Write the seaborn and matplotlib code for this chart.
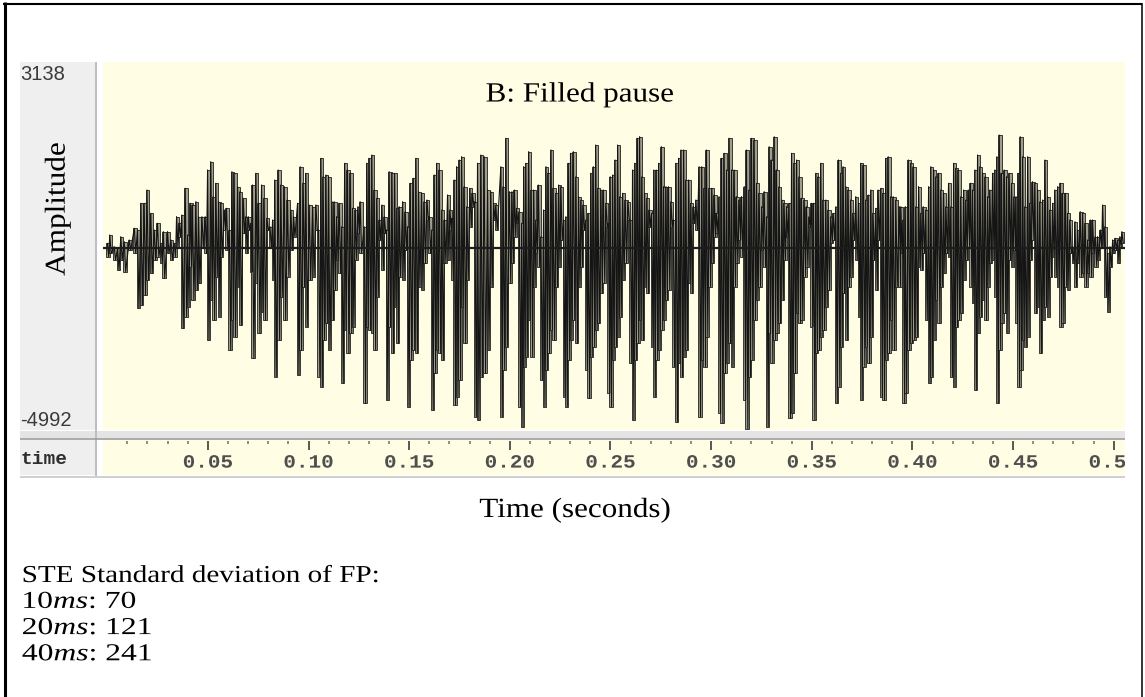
import numpy as np
import pandas as pd
import seaborn as sns
import matplotlib
matplotlib.use("Agg")
import matplotlib.pyplot as plt
from matplotlib.lines import Line2D
from matplotlib.patheffects import AbstractPathEffect
from matplotlib.transforms import Affine2D, blended_transform_factory

# ---------------------------------------------------------------------------
# Waveform of the filled pause: one vertical stroke per drawn sample pair,
# given by its time (ms) and its upper / lower amplitude (sample units).
# ---------------------------------------------------------------------------
time_ms = [
    # 0.00 - 0.10 s
    0.4, 1.6, 3.8, 5.5, 7.1, 8.8, 11.3, 13.8, 15.4, 17.1, 18.7, 20.1, 22.0, 23.7,
    25.3, 27.0, 28.2, 30.3, 32.0, 33.6, 34.8, 36.1, 37.4, 39.1, 40.3, 41.6, 42.7,
    44.4, 45.7, 47.4, 49.0, 50.2, 51.8, 53.0, 54.3, 55.7, 56.8, 58.5, 59.6, 61.0,
    62.3, 63.4, 65.1, 66.3, 67.9, 69.2, 70.4, 71.7, 72.5, 74.2, 75.5, 77.0, 78.3,
    79.7, 81.2, 82.5, 83.6, 85.3, 86.6, 88.3, 89.9, 91.6, 92.9, 94.9, 96.2, 97.7,
    99.0,
    # 0.10 - 0.195 s
    100.7, 102.4, 104.0, 105.3, 106.5, 107.6, 109.0, 110.3, 112.0, 113.1, 114.3,
    115.6, 116.9, 118.3, 119.7, 121.1, 122.2, 123.6, 124.9, 126.0, 128.0, 129.3,
    130.5, 131.8, 133.0, 134.3, 135.5, 136.8, 138.0, 139.1, 140.4, 141.8, 143.1,
    144.3, 145.4, 147.1, 148.4, 149.6, 150.9, 152.4, 153.7, 155.0, 156.5, 157.8,
    159.2, 160.3, 161.6, 162.8, 164.0, 165.3, 166.6, 167.9, 169.4, 170.6, 171.6,
    172.7, 173.9, 175.2, 176.4, 177.7, 179.0, 180.5, 181.8, 183.0, 184.3, 186.0,
    187.6, 189.3, 190.9, 192.3, 193.4,
    # 0.195 - 0.294 s
    195.9, 197.1, 198.4, 200.1, 201.4, 202.6, 203.7, 205.0, 206.2, 207.2, 208.3,
    209.7, 211.0, 212.2, 213.3, 214.5, 215.8, 217.1, 218.3, 219.4, 220.8, 221.9,
    223.3, 224.6, 225.7, 227.1, 228.2, 229.4, 230.5, 231.9, 233.2, 234.5, 235.7,
    236.8, 238.2, 239.3, 240.6, 241.8, 243.0, 244.1, 245.6, 246.8, 248.1, 249.3,
    250.2, 251.4, 252.6, 253.9, 255.0, 256.4, 257.7, 259.0, 260.2, 261.3, 262.5,
    263.7, 264.8, 266.0, 267.3, 268.5, 269.6, 270.8, 271.9, 273.1, 274.3, 275.6,
    276.7, 277.9, 279.1, 280.4, 281.5, 282.9, 284.2, 285.4, 286.7, 287.8, 289.2,
    290.3, 291.5, 292.8,
    # 0.294 - 0.393 s
    294.4, 295.7, 296.9, 298.0, 299.4, 300.7, 301.9, 303.0, 304.3, 305.5, 306.8,
    308.0, 309.3, 310.5, 311.8, 312.9, 314.3, 315.4, 316.8, 317.9, 319.2, 320.4,
    321.7, 322.9, 324.2, 325.5, 326.7, 328.0, 329.2, 330.3, 331.7, 332.8, 334.1,
    335.5, 336.6, 337.8, 339.1, 340.3, 341.6, 342.8, 344.1, 345.2, 346.6, 347.7,
    349.0, 350.2, 351.2, 352.4, 353.5, 354.8, 356.0, 357.3, 358.5, 359.8, 361.0,
    362.3, 363.6, 364.8, 365.9, 367.3, 368.4, 369.7, 370.9, 372.2, 373.6, 374.7,
    376.0, 377.2, 378.4, 379.7, 380.8, 382.2, 383.3, 384.7, 385.8, 387.1, 388.3,
    389.6, 390.8, 392.1,
    # 0.393 - 0.505 s
    393.8, 394.6, 395.8, 396.8, 398.3, 399.6, 400.8, 402.1, 403.4, 404.6, 405.7,
    407.0, 408.4, 409.5, 410.9, 412.0, 413.3, 414.5, 415.8, 417.0, 418.3, 419.5,
    420.8, 422.0, 423.1, 424.4, 425.8, 426.9, 428.1, 429.2, 430.2, 431.4, 432.7,
    433.9, 435.2, 436.5, 437.7, 438.8, 440.2, 441.3, 442.3, 443.5, 444.6, 446.0,
    447.1, 448.4, 449.6, 450.8, 451.8, 452.9, 453.9, 455.1, 456.2, 457.6, 458.7,
    460.0, 461.2, 462.5, 463.7, 465.0, 466.2, 467.5, 468.7, 470.0, 471.1, 472.5,
    473.8, 474.9, 476.3, 477.4, 478.6, 479.9, 481.1, 482.4, 483.7, 484.9, 486.2,
    487.4, 488.7, 489.8, 491.2, 492.3, 493.7, 494.8, 496.0, 497.3, 498.5, 499.8,
    501.1, 502.3, 503.4, 504.4,
]

amp_hi = [
    138, 369, 46, 0, 323, 185, 231, 554, 508, 1246, 1246, 1615, 969, 508,
    692, 138, 462, 462, 231, 138, 877, 692, 923, 1661, 369, 1246, 1200,
    1292, 877, 877, 877, 2169, 2400, 1431, 1800, 1292, 1246, 1061, 1108, 508,
    2123, 2077, 1708, 1569, 1385, 877, 877, 692, 1754, 2077, 1246, 1754, 1385,
    831, 600, 785, 1892, 2169, 1754, 1708, 1338, 1061, 877, 1246, 2261, 1800,
    2077,
    1200, 1154, 1200, 508, 2492, 1984, 2031, 1984, 1292, 1292, 877,
    1246, 600, 2354, 2169, 2077, 1108, 1061, 1154, 1292, 600, 2354,
    2492, 2584, 1615, 1385, 785, 1200, 877, 508, 2123, 2077, 2077,
    1108, 1154, 1292, 1015, 600, 1800, 1938, 2492, 1569, 1523, 1292,
    1338, 877, 508, 2031, 2354, 2169, 1061, 785, 1477, 1061, 831,
    1892, 2261, 2446, 2538, 1708, 1154, 1661, 1523, 1292, 2354, 2584,
    2538, 1615, 1569, 1246, 1200,
    2261, 1708, 3046, 1569, 1569, 1615, 1108, 1015, 692, 2261, 2354,
    2677, 1615, 1615, 785, 1754, 323, 1061, 2261, 2077, 2723, 1661,
    1523, 1754, 1708, 785, 877, 2354, 2631, 2677, 1984, 1431, 1338,
    1200, 785, 969, 2077, 2261, 2861, 1661, 1615, 1615, 1246, 692,
    1984, 2031, 2446, 2861, 1431, 1523, 1338, 1292, 785, 2169, 2354,
    3046, 3092, 1984, 1523, 1385, 1061, 969, 2169, 2169, 2354, 2815,
    1708, 1708, 1708, 1292, 785, 2354, 2492, 2723, 2723, 1892, 1892,
    1246, 1154, 1338,
    2261, 2261, 1661, 2723, 1661, 1661, 1477, 969, 1431, 2492, 2631,
    2169, 3046, 2169, 2169, 1431, 1338, 1431, 1708, 2723, 1615, 3046,
    3000, 1800, 1523, 1154, 1569, 877, 2815, 2446, 3090, 2169, 1708,
    1338, 1246, 1154, 1246, 2631, 2354, 2446, 1984, 1385, 1338, 1154,
    877, 1246, 1246, 2077, 1984, 2354, 1338, 1338, 1061, 877, 969,
    1154, 2446, 2077, 2261, 1708, 1615, 1338, 969, 1431, 1246, 2354,
    2308, 1338, 1477, 1615, 969, 1108, 1615, 1661, 1523, 2492, 2538,
    1431, 1431, 1338,
    1154, 1154, 785, 1154, 2446, 2354, 2261, 1154, 1708, 969, 1154,
    1061, 1708, 2261, 2169, 1984, 2077, 1615, 1523, 1154, 1800, 1154,
    2354, 2215, 2169, 1431, 1615, 1338, 1615, 1800, 1615, 2169, 2584,
    2261, 2077, 1984, 1431, 1615, 2077, 2169, 2538, 3138, 2077, 2169,
    1984, 2077, 1800, 1431, 1431, 2077, 3092, 2538, 1154, 2538, 1246,
    1846, 1800, 1615, 1292, 1338, 2446, 1431, 1061, 1246, 1615, 1708,
    1800, 1523, 1523, 969, 785, 46, 738, 508, 1015, 969, 692,
    231, 785, 785, 323, 323, 508, 1200, 600, -138, 46, 231,
    277, 231, 323, 462,
]

amp_lo = [
    -231, -138, -323, -600, -323, -646, -46, -138, -1661, -1569, -1292, -877,
    -692, -323, -231, -415, -831, -138, -323, -231, 46, 323, -2215, -1892,
    -1615, -508, -1431, -1154, -969, 46, -138, -2538, -1431, -1984, -785,
    -1892, -231, 508, -46, -2815, -1984, -2446, -1061, -2123, 415, -138, 508,
    -646, -3046, -969, -2354, -1754, -1984, 508, 0, -877, -3554, -2538, -1338,
    -1984, -785, -46, 323, -3507, -2815, -1061, -2169,
    -877, -785, 508, -3554, -3830, -2538, -2077, -2815, -1984, -1154, -323,
    -692, -3738, -2261, -2907, -2354, -2169, -323, 415, -138, -4292, -2169,
    -2261, -2354, -2815, -1338, 231, -600, 415, -4200, -2169, -2907, -1615,
    -2631, -785, -877, -46, -4384, -3092, -2815, -2907, -1061, -1154, -415,
    785, -138, -4477, -3461, -2815, -2907, -3092, -415, -323, 508, -877,
    -4338, -4107, -3646, -1615, -2631, -877, 600, 1154, -4661, -4753, -3554,
    -3461, -2815, -1061, 785, 508,
    -4661, -3369, -2723, -969, -415, 323, 692, -4384, -4950, -3277, -3000,
    -1984, -3000, -1061, -138, -508, -3646, -4384, -3369, -2907, -2261, -2538,
    -1061, -508, 231, -4107, -4384, -3092, -2538, -1984, -2631, -1061, -508,
    508, -3369, -4154, -3000, -2723, -2261, -2077, -1246, -969, 600, -4015,
    -4384, -3092, -2723, -2446, -1892, -877, -415, 785, -3184, -4753, -3092,
    -2631, -1984, -2538, -1061, -1246, 600, -2723, -4107, -3092, -2815, -2261,
    -1984, -1431, -1154, 600, -3277, -4800, -3184, -3554, -3000, -2815, -969,
    -1246, 692, 508,
    -4661, -3092, -3277, -2446, -1061, -415, 323, 415, -4569, -4846, -3461,
    -3184, -2631, -3277, -1061, -415, 231, -231, -4200, -4992, -3554, -3092,
    -1984, -1431, -1061, -46, -508, -4938, -2354, -3184, -2538, -2354, -2077,
    -1431, -323, 323, -4707, -4569, -3461, -1800, -2077, -1984, -785, -508,
    600, -2169, -4753, -2907, -2815, -2446, -2261, -1615, -1154, 138, 231,
    -4292, -3830, -2723, -1246, -2538, -1061, -785, 231, -323, -1892, -4200,
    -3277, -2723, -3184, -2446, -323, -1154, 231, -4107, -4200, -3092, -2907,
    -1984, -2815, -1061,
    -1061, -138, -4292, -4015, -2815, -2631, -2538, -2446, -508, -600, -138,
    -1984, -3738, -3554, -2538, -1431, -2077, -1061, -692, -138, -231, -3554,
    -3830, -2169, -1984, -1800, -877, -323, 46, -1061, -1523, -3923, -2354,
    -1892, -1431, -1984, -1061, -415, -323, -1338, -4292, -2815, -2077, -1800,
    -2354, -323, -508, -46, -2077, -3830, -3369, -2538, -2723, -2446, -323,
    231, -1800, -1615, -2907, -1984, -1615, -1892, -785, -231, -785, -1061,
    -2169, -2077, -1061, -1154, -138, -415, -1061, -415, -785, -692, -1061,
    -692, -785, -138, -508, -323, 46, 46, -1338, -1754, -508, -138,
    -46, -415, 46, 138,
]

# Amplitude range shown by the editor and the time ruler
amp_max_label = "3138"
amp_min_label = "-4992"
ruler_ticks = [0.05, 0.10, 0.15, 0.20, 0.25, 0.30, 0.35, 0.40, 0.45, 0.50]
ruler_labels = ["0.05", "0.10", "0.15", "0.20", "0.25", "0.30", "0.35",
                "0.40", "0.45", "0.50"]
ruler_minor = [round(0.01 * k, 2) for k in range(1, 51)]

panel_title = "B: Filled pause"
y_title = "Amplitude"
x_title = "Time (seconds)"
notes_head = "STE Standard deviation of FP:"
window_ms = ["10", "20", "40"]
ste_sd = [70, 121, 241]

if not (len(time_ms) == len(amp_hi) == len(amp_lo)):
    raise ValueError("stroke arrays differ in length")

wave = pd.DataFrame({"t": np.asarray(time_ms) / 1000.0,
                     "hi": amp_hi, "lo": amp_lo})

# the trace runs down each stroke and up again to the next one
half = 0.00035
trace = pd.DataFrame({
    "t": np.column_stack([wave["t"] - half, wave["t"] + half]).ravel(),
    "amp": np.column_stack([wave["hi"], wave["lo"]]).ravel(),
})

# ---------------------------------------------------------------------------
sns.set_theme(style="white")
plt.rcParams["font.family"] = ["Liberation Serif", "DejaVu Serif"]
plt.rcParams["mathtext.fontset"] = "custom"
plt.rcParams["mathtext.rm"] = "Liberation Serif"
plt.rcParams["mathtext.it"] = "Liberation Serif:italic"

W, H = 1145, 697
fig = plt.figure(figsize=(W / 100, H / 100), dpi=100)
fig.patch.set_facecolor("white")

YELLOW = "#fffde3"
PANEL = "#efefef"


class Widen(AbstractPathEffect):
    """Stretch glyph outlines horizontally about the text's left edge or centre."""

    def __init__(self, sx, anchor="center"):
        super().__init__()
        self.sx = sx
        self.anchor = anchor

    def draw_path(self, renderer, gc, tpath, affine, rgbFace=None):
        ext = affine.transform_path(tpath).get_extents()
        x0 = ext.x0 if self.anchor == "left" else 0.5 * (ext.x0 + ext.x1)
        aff = affine + Affine2D().translate(-x0, 0).scale(self.sx, 1.0).translate(x0, 0)
        renderer.draw_path(gc, tpath, aff, rgbFace)


def box(x0, y0, x1, y1):
    return [x0 / W, 1 - y1 / H, (x1 - x0) / W, (y1 - y0) / H]


def panel(x0, y0, x1, y1, color):
    a = fig.add_axes(box(x0, y0, x1, y1))
    a.set_facecolor(color)
    a.set_xticks([])
    a.set_yticks([])
    for s in a.spines.values():
        s.set_visible(False)
    return a


def fline(x0, y0, x1, y1, color, lw):
    fig.add_artist(Line2D([x0 / W, x1 / W], [1 - y0 / H, 1 - y1 / H],
                          transform=fig.transFigure, color=color, lw=lw,
                          solid_capstyle="butt"))


def ftext(x, y, s, **kw):
    return fig.text(x / W, 1 - y / H, s, **kw)


# side panels and separators
panel(20, 62, 95, 430, PANEL)
panel(20, 440, 95, 475, PANEL)
panel(20, 431, 1125, 438, "#e4e4e4")
fline(96, 62, 96, 476, "#bdbdbd", 1.4)
fline(20, 438.5, 1125, 438.5, "#9c9c9c", 1.2)
fline(20, 476.5, 1125, 476.5, "#cfcfcf", 1.4)

# waveform
XMIN, XMAX = -0.0021, 0.5056
ax = panel(103, 62, 1125, 430, YELLOW)
ax.bar(wave["t"], wave["hi"] - wave["lo"], bottom=wave["lo"], width=0.0017,
       color="#a09e8a", edgecolor="#202020", linewidth=0.6, zorder=2)
sns.lineplot(data=trace, x="t", y="amp", sort=False, estimator=None,
             color="#141414", lw=0.8, ax=ax, zorder=3)
ax.axhline(0, color="#1c1c1c", lw=1.6, zorder=4)
ax.set_xlim(XMIN, XMAX)
ax.set_ylim(-5033, 5160)
ax.set_xlabel("")
ax.set_ylabel("")
ax.set_xticks([])
ax.set_yticks([])
sns.despine(ax=ax, left=True, bottom=True)

# time ruler
rx = panel(103, 440, 1125, 475, YELLOW)
rx.set_xlim(XMIN, XMAX)
rx.set_ylim(0, 1)
rx.vlines(ruler_ticks, 0.72, 0.97, color="#4a4a4a", lw=1.3)
minor = [m for m in ruler_minor if all(abs(m - t) > 1e-6 for t in ruler_ticks)]
rx.vlines(minor, 0.88, 0.96, color="#6f6f6f", lw=1.1)
trans = blended_transform_factory(rx.transData, rx.transAxes)
for t, lab in zip(ruler_ticks, ruler_labels):
    rx.text(t, 0.34, lab, transform=trans, ha="center", va="center",
            family="Liberation Mono", weight="bold", fontsize=13.5,
            color="#4f4f4f", clip_on=True, path_effects=[Widen(1.12)])

ftext(20, 459, "time", ha="left", va="center", family="Liberation Mono",
      weight="bold", fontsize=14, color="#2e2e2e")
ftext(20, 75, amp_max_label, ha="left", va="center", family="Liberation Sans",
      fontsize=14.5, color="#3a3a3a")
ftext(20, 420, amp_min_label, ha="left", va="center", family="Liberation Sans",
      fontsize=14.5, color="#3a3a3a")

# titles
ftext(580, 101.5, panel_title, ha="center", va="baseline", fontsize=20,
      color="black", path_effects=[Widen(1.12)])
ftext(57.5, 209, y_title, ha="center", va="center", rotation=90, fontsize=22.5,
      color="black", path_effects=[Widen(0.92)])
ftext(575, 517, x_title, ha="center", va="baseline", fontsize=20,
      color="black", path_effects=[Widen(1.12)])

# notes below the chart
ftext(22, 582, notes_head, ha="left", va="baseline", fontsize=17.5,
      color="black", path_effects=[Widen(1.2, "left")])
for i, (w, v) in enumerate(zip(window_ms, ste_sd)):
    ftext(22, 608 + 26.2 * i, f"{w}$ms$: {v}", ha="left", va="baseline",
          fontsize=17.5, color="black", path_effects=[Widen(1.3, "left")])

# outer frame
fline(4.5, 2, 4.5, 697, "black", 2.2)
fline(3, 3.5, 1142, 3.5, "black", 1.5)
fline(1141.5, 2.5, 1141.5, 697, "black", 1.1)

fig.savefig("out.png", dpi=100, facecolor="white")
